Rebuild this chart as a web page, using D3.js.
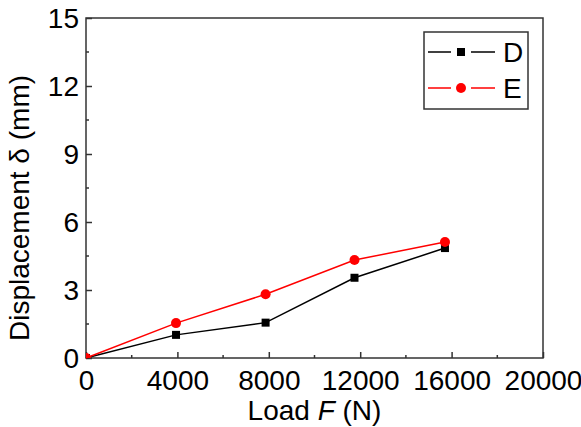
<!DOCTYPE html>
<html>
<head>
<meta charset="utf-8">
<script src="https://cdn.jsdelivr.net/npm/d3@7"></script>
<style>
  body { margin: 0; background: #fff; }
  text { font-family: "Liberation Sans", Arial, sans-serif; }
</style>
</head>
<body>
<svg id="chart" width="581" height="427"></svg>
<script>
// values
let loadF = [0, 3940, 7860, 11750, 15710];
let dispD = [0, 1.02, 1.56, 3.54, 4.85];
let dispE = [0, 1.54, 2.81, 4.32, 5.12];
let xTicks = [0, 4000, 8000, 12000, 16000, 20000];
let yTicks = [0, 3, 6, 9, 12, 15];

let plotL = 86, plotR = 543, plotT = 18, plotB = 358;
let fontSize = 28;
let axisColor = "#333";

let svg = d3.select("#chart");

let x = d3.scaleLinear().domain([0, 20000]).range([plotL, plotR]);
let y = d3.scaleLinear().domain([0, 15]).range([plotB, plotT]);

// clip for markers
svg.append("defs").append("clipPath")
    .attr("id", "plotClip")
  .append("rect")
    .attr("x", plotL).attr("y", plotT)
    .attr("width", plotR - plotL).attr("height", plotB - plotT);

// minor ticks (inward)
let xMinor = d3.range(2000, 20000, 4000);
let yMinor = d3.range(1.5, 15, 3);

let xAxis = d3.axisBottom(x).tickValues(xTicks).tickFormat(d3.format("d"))
    .tickSizeInner(-6).tickSizeOuter(0).tickPadding(12);
let yAxis = d3.axisLeft(y).tickValues(yTicks).tickFormat(d3.format("d"))
    .tickSizeInner(-6).tickSizeOuter(0).tickPadding(7);

let gx = svg.append("g")
    .attr("transform", "translate(0," + plotB + ")")
    .call(xAxis);
let gy = svg.append("g")
    .attr("transform", "translate(" + plotL + ",0)")
    .call(yAxis);

[gx, gy].forEach(function(g) {
    g.select(".domain").remove();
    g.selectAll("line").attr("stroke", axisColor).attr("stroke-width", 1.5);
    g.selectAll("text")
        .style("font-size", fontSize + "px")
        .attr("fill", "#000");
});
gy.selectAll("text").attr("dy", "0.35em");

svg.append("g").selectAll("line")
    .data(xMinor)
    .join("line")
    .attr("x1", function(d) { return x(d); })
    .attr("x2", function(d) { return x(d); })
    .attr("y1", plotB).attr("y2", plotB - 3)
    .attr("stroke", axisColor).attr("stroke-width", 1.5);

svg.append("g").selectAll("line")
    .data(yMinor)
    .join("line")
    .attr("y1", function(d) { return y(d); })
    .attr("y2", function(d) { return y(d); })
    .attr("x1", plotL).attr("x2", plotL + 3)
    .attr("stroke", axisColor).attr("stroke-width", 1.5);

// frame
svg.append("rect")
    .attr("x", plotL).attr("y", plotT)
    .attr("width", plotR - plotL).attr("height", plotB - plotT)
    .attr("fill", "none")
    .attr("stroke", axisColor)
    .attr("stroke-width", 1.5);

// series
let series = [
    { name: "D", values: dispD, color: "#000", shape: "square" },
    { name: "E", values: dispE, color: "#ff0000", shape: "circle" }
];

let line = d3.line()
    .x(function(d) { return x(d[0]); })
    .y(function(d) { return y(d[1]); });

series.forEach(function(s) {
    let pts = loadF.map(function(f, i) { return [f, s.values[i]]; });
    svg.append("path")
        .datum(pts)
        .attr("d", line)
        .attr("fill", "none")
        .attr("stroke", s.color)
        .attr("stroke-width", 1.5);

    let g = svg.append("g").attr("clip-path", "url(#plotClip)");
    if (s.shape === "square") {
        g.selectAll("rect")
            .data(pts)
            .join("rect")
            .attr("x", function(d) { return x(d[0]) - 4; })
            .attr("y", function(d) { return y(d[1]) - 4; })
            .attr("width", 8).attr("height", 8)
            .attr("fill", s.color);
    } else {
        g.selectAll("circle")
            .data(pts)
            .join("circle")
            .attr("cx", function(d) { return x(d[0]); })
            .attr("cy", function(d) { return y(d[1]); })
            .attr("r", 5)
            .attr("fill", s.color);
    }
});

// axis titles
let xt = svg.append("text")
    .attr("x", (plotL + plotR) / 2)
    .attr("y", 420)
    .attr("text-anchor", "middle")
    .style("font-size", fontSize + "px");
xt.append("tspan").text("Load ");
xt.append("tspan").style("font-style", "italic").text("F");
xt.append("tspan").text(" (N)");

svg.append("text")
    .attr("transform", "translate(29,208) rotate(-90)")
    .attr("text-anchor", "middle")
    .style("font-size", fontSize + "px")
    .text("Displacement \u03b4 (mm)");

// legend
let lg = svg.append("g");
lg.append("rect")
    .attr("x", 424).attr("y", 32)
    .attr("width", 104).attr("height", 77)
    .attr("fill", "#fff")
    .attr("stroke", axisColor)
    .attr("stroke-width", 1.5);

series.forEach(function(s, i) {
    let cy = 52 + i * 36;
    lg.append("line")
        .attr("x1", 428).attr("x2", 495)
        .attr("y1", cy).attr("y2", cy)
        .attr("stroke", s.color).attr("stroke-width", 1.5);
    // gap around the marker like the original
    lg.append("rect")
        .attr("x", 451).attr("y", cy - 3)
        .attr("width", 20).attr("height", 6)
        .attr("fill", "#fff");
    if (s.shape === "square") {
        lg.append("rect")
            .attr("x", 457).attr("y", cy - 4)
            .attr("width", 8).attr("height", 8)
            .attr("fill", s.color);
    } else {
        lg.append("circle")
            .attr("cx", 461).attr("cy", cy)
            .attr("r", 5)
            .attr("fill", s.color);
    }
    lg.append("text")
        .attr("x", 503).attr("y", cy)
        .attr("dy", "0.35em")
        .style("font-size", fontSize + "px")
        .text(s.name);
});
</script>
</body>
</html>
